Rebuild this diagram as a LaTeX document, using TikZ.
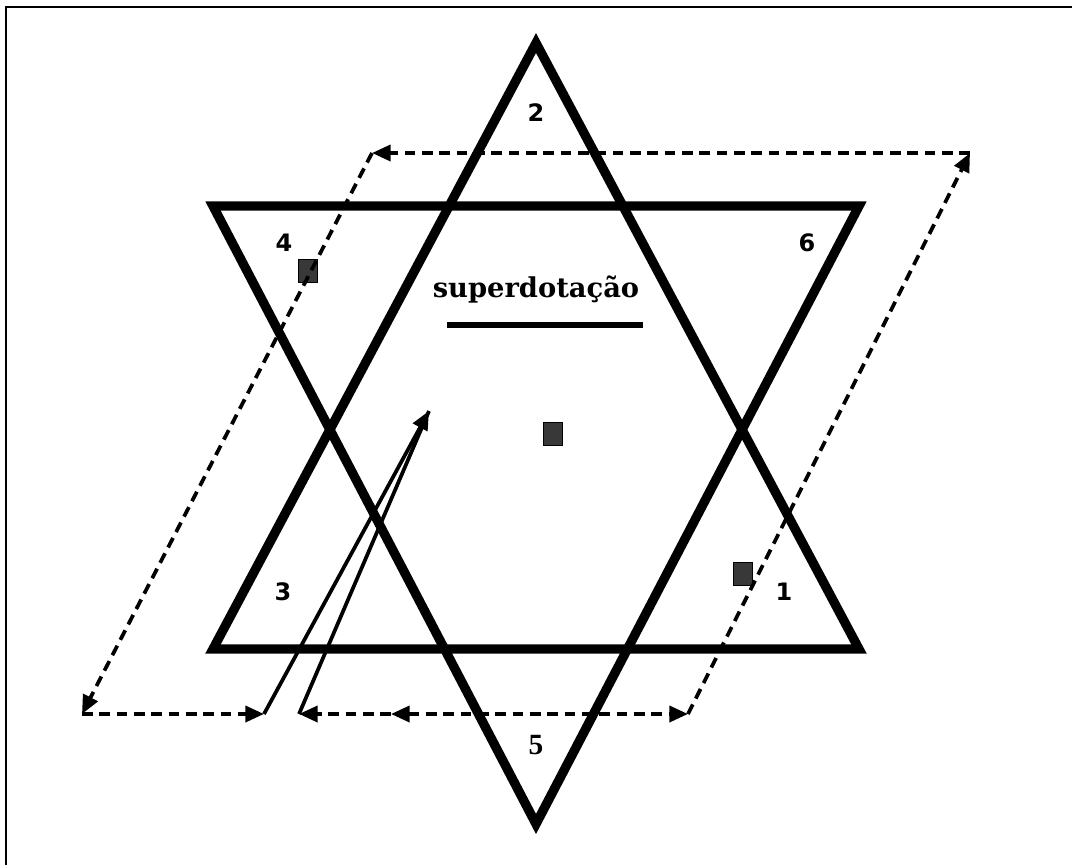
\documentclass[tikz,border=0pt]{standalone}
\usepackage{fontspec}
\setmainfont{Liberation Serif}
\newfontfamily\numfont{DejaVu Sans}
\newfontfamily\titlefont{DejaVu Serif}
\usetikzlibrary{arrows.meta,positioning}

\begin{document}
\begin{tikzpicture}[
    x=0.75pt, y=-0.75pt,
    tri/.style={line width=7pt, line join=miter},
    dline/.style={line width=2.8pt, dash pattern=on 8pt off 5pt},
    sline/.style={line width=2.8pt},
    tip/.style={-{Triangle[length=14pt,width=12pt]}},
    num/.style={font=\numfont\bfseries\fontsize{18}{20}\selectfont},
    sq/.style={rectangle, draw=black, fill=black!78, line width=0.8pt, minimum width=14.5pt, minimum height=17pt, inner sep=0pt}
]
    \useasboundingbox (0,0) rectangle (1072,865);
    % frame
    \draw[line width=1.6pt] (6,865) -- (6,7) -- (1072,7);

    % star
    \coordinate (u1) at (536,43);
    \coordinate (u2) at (213,649);
    \coordinate (u3) at (859,649);
    \coordinate (d1) at (213,206);
    \coordinate (d2) at (859,206);
    \coordinate (d3) at (536,824);
    \draw[tri] (u1) -- (u2) -- (u3) -- cycle;
    \draw[tri] (d1) -- (d2) -- (d3) -- cycle;

    % numbers
    \node[num] (n2) at (536,113) {2};
    \node[num] (n4) at (284,243) {4};
    \node[num] (n6) at (807,243) {6};
    \node[num] (n3) at (283,592) {3};
    \node[num] (n1) at (784,592) {1};
    \node[font=\bfseries\fontsize{22}{24}\selectfont] (n5) at (536,745) {5};

    % title
    \node[font=\titlefont\bfseries\fontsize{20.5}{24}\selectfont] (title) at (536,290) {superdotação};
    \coordinate (ul) at (447,325);
    \coordinate (ur) at (643,325);
    \draw[line width=3.8pt] (ul) -- (ur);

    % squares
    \node[sq] (s4) at (308,271) {};
    \node[sq] (s0) at (553,434) {};
    \node[sq] (s1) at (743,574) {};

    % dashed loop
    \coordinate (c1) at (372,153);
    \coordinate (c2) at (970,153);
    \coordinate (c3) at (688,714);
    \coordinate (c4) at (82,714);
    \coordinate (p1) at (264,714);
    \coordinate (p2) at (299,714);
    \coordinate (m) at (391,714);
    \coordinate (a) at (429,411);

    \draw[dline, tip] (c3) -- (c2);
    \draw[dline, tip] (c2) -- (c1);
    \draw[dline, tip] (c1) -- (c4);
    \draw[dline, tip] (c4) -- (p1);
    \draw[sline, tip] (p1) -- (a);
    \draw[sline] (a) -- (p2);
    \draw[dline, tip] (m) -- (p2);
    \draw[dline, {Triangle[length=14pt,width=12pt]}-{Triangle[length=14pt,width=12pt]}] (m) -- (c3);
\end{tikzpicture}
\end{document}
